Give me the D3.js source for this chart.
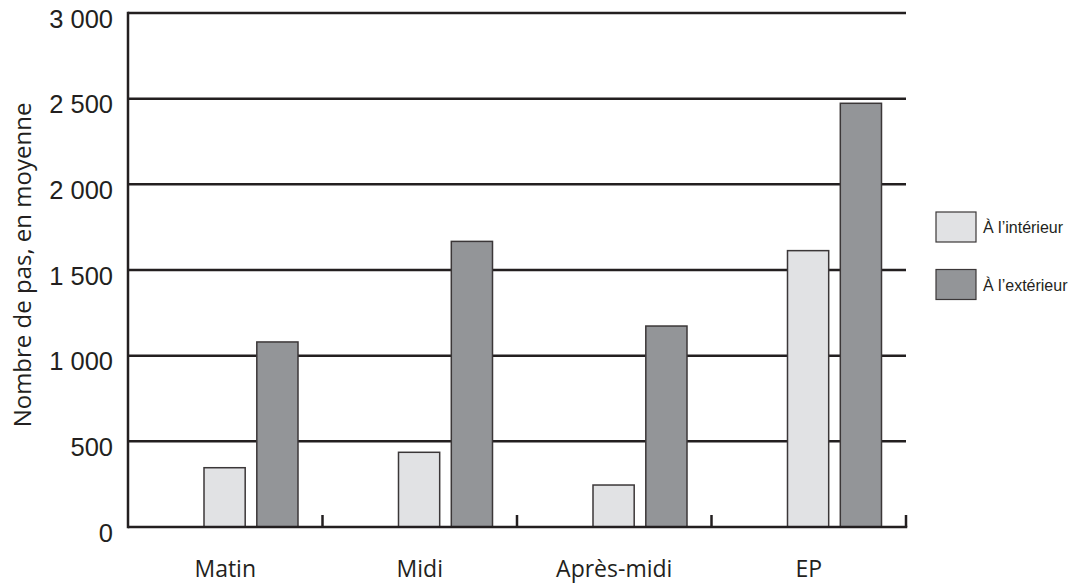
<!DOCTYPE html>
<html><head><meta charset="utf-8">
<script src="https://cdn.jsdelivr.net/npm/d3@7"></script>
<style>body{margin:0;background:#fff}svg{display:block}</style>
</head><body>
<svg id="c" width="1073" height="585"></svg>
<script>
const categories = ["Matin", "Midi", "Après-midi", "EP"];
const seriesNames = ["À l’intérieur", "À l’extérieur"];
const interieur = [346, 436, 245, 1613];
const exterieur = [1080, 1667, 1173, 2473];
const yTicks = [0, 500, 1000, 1500, 2000, 2500, 3000];
const yTitle = "Nombre de pas, en moyenne";
const colors = ["#e1e2e4", "#939598"];
const ink = "#231f20";

const svg = d3.select("#c");
const x0 = 128, x1 = 906, yTop = 13, yBot = 527;
const x = d3.scaleBand().domain(categories).range([x0, x1]).padding(0);
const xs = d3.scaleBand().domain(seriesNames).range([76, 170]).paddingInner(0.22).paddingOuter(0);
const y = d3.scaleLinear().domain([0, 3000]).range([yBot, yTop]);

// gridlines
svg.append("g").selectAll("line").data(yTicks.filter(d => d > 0)).join("line")
  .attr("x1", x0).attr("x2", x1).attr("y1", d => y(d)).attr("y2", d => y(d))
  .attr("stroke", ink).attr("stroke-width", 2.5);

// y labels
const fmt = d => d3.format(",")(d).replace(/,/g, " ");
svg.append("g").selectAll("text").data(yTicks).join("text")
  .attr("x", 113).attr("y", d => y(d) + 14.5).attr("text-anchor", "end")
  .attr("font-family", "Liberation Sans, Arial, sans-serif").attr("font-size", 25.5).attr("fill", ink)
  .text(fmt);

// bars
const data = categories.map((c, i) => ({c, vals: [interieur[i], exterieur[i]]}));
const g = svg.append("g");
data.forEach(d => {
  d.vals.forEach((v, j) => {
    g.append("rect")
      .attr("x", x(d.c) + xs(seriesNames[j]))
      .attr("width", xs.bandwidth())
      .attr("y", y(v)).attr("height", y(0) - y(v))
      .attr("fill", colors[j]).attr("stroke", "#3b3738").attr("stroke-width", 1.5);
  });
});

// axes
svg.append("line").attr("x1", x0).attr("x2", x0).attr("y1", yTop - 1.25).attr("y2", yBot + 1.25)
  .attr("stroke", ink).attr("stroke-width", 2.5);
svg.append("line").attr("x1", x0).attr("x2", x1 + 1.25).attr("y1", yBot).attr("y2", yBot)
  .attr("stroke", ink).attr("stroke-width", 2.5);
svg.append("g").selectAll("line").data(categories).join("line")
  .attr("x1", d => x(d) + x.bandwidth()).attr("x2", d => x(d) + x.bandwidth())
  .attr("y1", yBot - 12).attr("y2", yBot)
  .attr("stroke", ink).attr("stroke-width", 2.5);

// x labels
svg.append("g").selectAll("text").data(categories).join("text")
  .attr("x", d => x(d) + x.bandwidth() / 2).attr("y", 577).attr("text-anchor", "middle")
  .attr("font-family", "Open Sans, sans-serif").attr("font-size", 23).attr("fill", ink)
  .text(d => d);

// y title
svg.append("text").attr("transform", "translate(31,265) rotate(-90)").attr("text-anchor", "middle")
  .attr("font-family", "Open Sans, sans-serif").attr("font-size", 24).attr("fill", ink)
  .text(yTitle);

// legend
const leg = svg.append("g");
seriesNames.forEach((s, j) => {
  const yy = 212 + j * 57.5;
  leg.append("rect").attr("x", 936).attr("y", yy).attr("width", 40).attr("height", 30)
    .attr("fill", colors[j]).attr("stroke", "#3b3738").attr("stroke-width", 1.2);
  leg.append("text").attr("x", 983).attr("y", yy + 21).attr("font-family", "Liberation Sans, Arial, sans-serif")
    .attr("font-size", 16).attr("fill", ink).text(s);
});
</script>
</body></html>
